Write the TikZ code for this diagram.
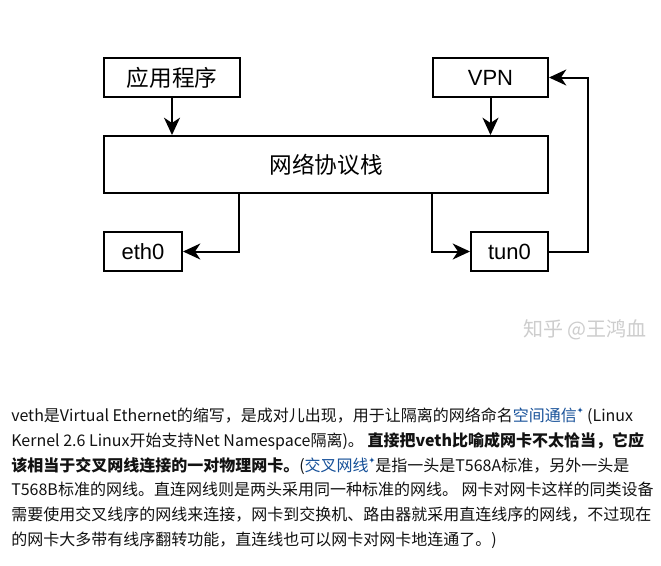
\documentclass[tikz,border=0pt]{standalone}
\usepackage{fontspec}
\setmainfont{Noto Sans CJK SC}
\newfontfamily\cjk{Noto Sans CJK SC}
\newfontfamily\lat{Liberation Sans}
\newfontfamily\dv{DejaVu Sans}
\usetikzlibrary{arrows.meta,calc}
\definecolor{txt}{RGB}{18,18,18}
\definecolor{lnk}{RGB}{23,81,153}
\definecolor{wm}{RGB}{205,205,205}
\newcommand\lk[1]{\textcolor{lnk}{#1\raisebox{0.45em}{\dv\fontsize{6pt}{6pt}\selectfont ✦}}}
\begin{document}
\begin{tikzpicture}[x=0.75pt,y=-0.75pt,
 box/.style={draw, line width=1.5pt, inner sep=0pt, anchor=center, text=black},
 cjklab/.style={font=\cjk\fontsize{17pt}{17pt}\selectfont},
 latlab/.style={font=\lat\fontsize{16.5pt}{17pt}\selectfont},
 arr/.style={line width=1.5pt, -{Stealth[length=13pt,width=12pt,inset=4pt]}},
 ln/.style={anchor=base west, inner sep=0pt, text=txt, font=\cjk\fontsize{12pt}{15pt}\selectfont}]
\fill[white] (0,0) rectangle (661,565);
\useasboundingbox (0,0) rectangle (661,565);
% diagram
\node[box, cjklab, minimum width=102pt, minimum height=29.25pt] (app) at (172,77.5) {应用程序};
\node[box, latlab, minimum width=86.25pt, minimum height=29.25pt] (vpn) at (490.5,77.5) {VPN};
\node[box, cjklab, minimum width=333pt, minimum height=42.75pt] (stack) at (326,164.5) {网络协议栈};
\node[box, latlab, minimum width=58.5pt, minimum height=29.25pt] (eth) at (143,251.5) {eth0};
\node[box, latlab, minimum width=57.75pt, minimum height=29.25pt] (tun) at (509.5,251.5) {tun0};
\coordinate (e1) at ($(stack.south west)+(136,0)$);
\coordinate (t1) at ($(stack.south west)+(329,0)$);
\coordinate (r1) at ($(tun.east)+(39,0)$);
\draw[arr] (app.south) -- (app.south |- stack.north);
\draw[arr] (vpn.south) -- (vpn.south |- stack.north);
\draw[arr] (e1) |- (eth.east);
\draw[arr] (t1) |- (tun.west);
\draw[arr] (tun.east) -- (r1) |- (vpn.east);
% watermark
\node[font=\cjk\fontsize{15pt}{15pt}\selectfont, text=wm, inner sep=0pt] (wmk) at (585,330) {知乎 @王鸿血};
% paragraph
\node[ln] (l1) at (11,421) {veth是Virtual Ethernet的缩写，是成对儿出现，用于让隔离的网络命名\lk{空间通信} (Linux};
\node[ln] (l2) at (11,446) {Kernel 2.6 Linux开始支持Net Namespace隔离)。 {\bfseries 直接把veth比喻成网卡不太恰当，它应}};
\node[ln] (l3) at (11,471) {{\bfseries 该相当于交叉网线连接的一对物理网卡。}(\lk{交叉网线}是指一头是T568A标准，另外一头是};
\node[ln] (l4) at (11,495) {T568B标准的网线。直连网线则是两头采用同一种标准的网线。 网卡对网卡这样的同类设备};
\node[ln] (l5) at (11,520) {需要使用交叉线序的网线来连接，网卡到交换机、路由器就采用直连线序的网线，不过现在};
\node[ln] (l6) at (11,545) {的网卡大多带有线序翻转功能，直连线也可以网卡对网卡地连通了。)};
\end{tikzpicture}
\end{document}
